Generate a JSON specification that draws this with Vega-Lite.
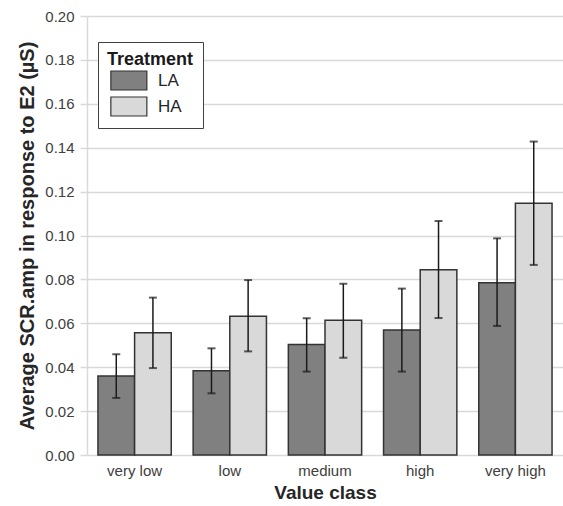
{
  "$schema": "https://vega.github.io/schema/vega-lite/v6.json",
  "width": 476,
  "height": 439,
  "autosize": {"type": "none"},
  "padding": {"left": 87, "top": 16, "right": 0, "bottom": 51},
  "background": "white",
  "config": {
    "view": {"stroke": null},
    "font": "Liberation Sans"
  },
  "data": {
    "values": [
      {"cls": "very low", "trt": "LA", "mean": 0.036, "lo": 0.026, "hi": 0.0459},
      {"cls": "very low", "trt": "HA", "mean": 0.0557, "lo": 0.0396, "hi": 0.0717},
      {"cls": "low", "trt": "LA", "mean": 0.0384, "lo": 0.0281, "hi": 0.0486},
      {"cls": "low", "trt": "HA", "mean": 0.0632, "lo": 0.0472, "hi": 0.0797},
      {"cls": "medium", "trt": "LA", "mean": 0.0503, "lo": 0.038, "hi": 0.0623},
      {"cls": "medium", "trt": "HA", "mean": 0.0614, "lo": 0.0443, "hi": 0.078},
      {"cls": "high", "trt": "LA", "mean": 0.057, "lo": 0.038, "hi": 0.0758},
      {"cls": "high", "trt": "HA", "mean": 0.0844, "lo": 0.0624, "hi": 0.1066},
      {"cls": "very high", "trt": "LA", "mean": 0.0785, "lo": 0.0588, "hi": 0.0987},
      {"cls": "very high", "trt": "HA", "mean": 0.1147, "lo": 0.0866, "hi": 0.1428}
    ]
  },
  "encoding": {
    "x": {
      "field": "cls", "type": "nominal",
      "sort": ["very low", "low", "medium", "high", "very high"],
      "scale": {"paddingInner": 0.23, "paddingOuter": 0.115},
      "axis": {
        "title": "Value class", "labelAngle": 0, "ticks": false, "domain": false,
        "labelFontSize": 15, "labelColor": "#404040", "labelPadding": 8,
        "titleFontSize": 19, "titleFontWeight": "bold", "titleColor": "#262626", "titlePadding": 5
      }
    },
    "xOffset": {"field": "trt", "type": "nominal", "sort": ["LA", "HA"]}
  },
  "layer": [
    {
      "mark": {"type": "bar", "stroke": "#333333", "strokeWidth": 1.5},
      "encoding": {
        "y": {
          "field": "mean", "type": "quantitative",
          "scale": {"domain": [0, 0.2], "nice": false},
          "axis": {
            "title": "Average SCR.amp in response to E2 (\u00b5S)",
            "values": [0, 0.02, 0.04, 0.06, 0.08, 0.1, 0.12, 0.14, 0.16, 0.18, 0.2],
            "format": ".2f",
            "grid": true, "gridColor": "#d9d9d9", "gridWidth": 1.5,
            "domainColor": "#d9d9d9", "domainWidth": 1.5,
            "tickColor": "#d9d9d9", "tickSize": 7, "tickWidth": 1.5,
            "labelFontSize": 15, "labelColor": "#404040", "labelPadding": 6,
            "titleFontSize": 20, "titleFontWeight": "bold", "titleColor": "#262626", "titlePadding": 7
          }
        },
        "fill": {
          "field": "trt", "type": "nominal", "sort": ["LA", "HA"],
          "scale": {"domain": ["LA", "HA"], "range": ["#808080", "#d9d9d9"]},
          "legend": {
            "title": "Treatment", "orient": "none", "legendX": 11, "legendY": 26,
            "titleFontSize": 18, "titleFontWeight": "bold", "titleColor": "#1a1a1a",
            "labelFontSize": 17, "labelColor": "#262626",
            "strokeColor": "#404040", "padding": 9, "fillColor": "white",
            "symbolType": "M-0.7,-1h3.79v2h-3.79z", "symbolSize": 361,
            "symbolStrokeColor": "#333333", "symbolStrokeWidth": 1.2,
            "labelOffset": 30, "rowPadding": 1, "titlePadding": 1
          }
        }
      }
    },
    {
      "mark": {"type": "rule", "color": "#1a1a1a", "strokeWidth": 1.5},
      "encoding": {
        "y": {"field": "lo", "type": "quantitative"},
        "y2": {"field": "hi"}
      }
    },
    {
      "mark": {"type": "tick", "color": "#1a1a1a", "thickness": 2, "size": 8},
      "encoding": {"y": {"field": "lo", "type": "quantitative"}}
    },
    {
      "mark": {"type": "tick", "color": "#1a1a1a", "thickness": 2, "size": 8},
      "encoding": {"y": {"field": "hi", "type": "quantitative"}}
    }
  ]
}
